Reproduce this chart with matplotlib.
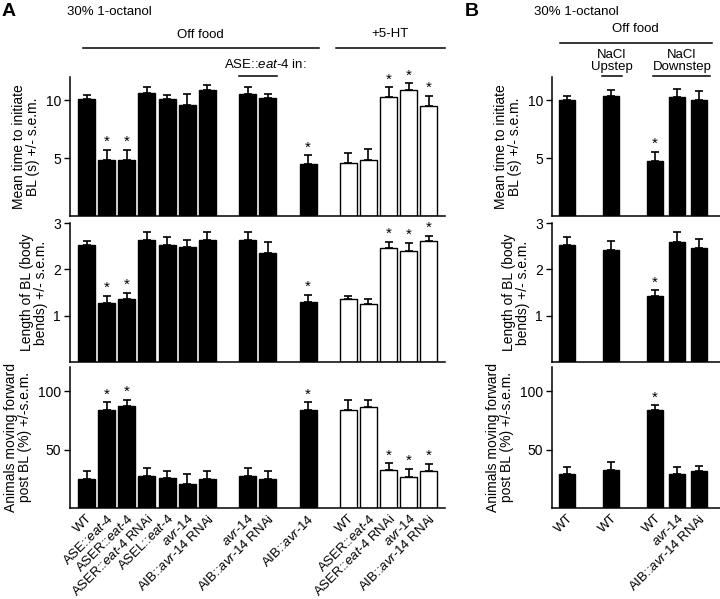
import numpy as np
import matplotlib
matplotlib.use("Agg")
import matplotlib.pyplot as plt
from matplotlib.lines import Line2D

plt.rcParams.update({
    "font.family": ["Liberation Sans", "DejaVu Sans"],
    "font.size": 9.5,
    "mathtext.fontset": "custom",
    "mathtext.rm": "Liberation Sans",
    "mathtext.it": "Liberation Sans:italic",
    "axes.linewidth": 1.1,
    "axes.spines.top": False,
    "axes.spines.right": False,
})

W, H = 720, 599
FS = 9.5


def eat4(s):
    return s.replace("eat-4", r"$\mathit{eat}$-$\mathit{4}$")


def avr14(s):
    return s.replace("avr-14", r"$\mathit{avr}$-$\mathit{14}$")


# ---- panel A data ----
a_groups = [7, 2, 1, 5]
a_labels = ["WT", "ASE::eat-4", "ASER::eat-4", "ASER::eat-4 RNAi", "ASEL::eat-4",
            "avr-14", "AIB::avr-14 RNAi", "avr-14", "AIB::avr-14 RNAi", "AIB::avr-14",
            "WT", "ASER::eat-4", "ASER::eat-4 RNAi", "avr-14", "AIB::avr-14 RNAi"]
a_open = [False] * 10 + [True] * 5
a_sig = [1, 2, 9, 12, 13, 14]
a_time = [10.1, 4.85, 4.85, 10.6, 10.1, 9.55, 10.85, 10.5, 10.2, 4.5, 4.6, 4.8, 10.3, 10.85, 9.5]
a_time_err = [0.35, 0.85, 0.85, 0.5, 0.35, 0.95, 0.5, 0.6, 0.35, 0.75, 0.8, 0.95, 0.8, 0.6, 0.9]
a_len = [2.52, 1.28, 1.35, 2.63, 2.52, 2.49, 2.64, 2.63, 2.35, 1.30, 1.35, 1.26, 2.45, 2.39, 2.61]
a_len_err = [0.09, 0.15, 0.15, 0.17, 0.18, 0.14, 0.17, 0.17, 0.23, 0.15, 0.07, 0.09, 0.15, 0.18, 0.12]
a_fwd = [24.7, 84.5, 87.3, 27.6, 25.6, 21.0, 24.7, 27.6, 24.7, 84.5, 84.5, 87.0, 32.2, 27.0, 31.6]
a_fwd_err = [6.9, 6.2, 5.7, 6.5, 6.3, 8.3, 7.2, 6.5, 7.2, 6.2, 8.0, 6.0, 6.2, 6.6, 6.3]

# ---- panel B data ----
b_groups = [1, 1, 3]
b_labels = ["WT", "WT", "WT", "avr-14", "AIB::avr-14 RNAi"]
b_open = [False] * 5
b_sig = [2]
b_time = [10.05, 10.4, 4.75, 10.25, 10.0]
b_time_err = [0.35, 0.5, 0.8, 0.75, 0.8]
b_len = [2.52, 2.41, 1.42, 2.6, 2.45]
b_len_err = [0.17, 0.2, 0.13, 0.2, 0.21]
b_fwd = [29.3, 32.4, 83.8, 28.9, 31.5]
b_fwd_err = [6.3, 7.5, 4.6, 6.7, 4.9]

ylab_time = "Mean time to initiate\nBL (s) +/- s.e.m."
ylab_len = "Length of BL (body\nbends) +/- s.e.m."
ylab_fwd = "Animals moving forward\npost BL (%) +/-s.e.m."


def positions(groups):
    xs, start = [], 0
    for n in groups:
        xs += list(range(start, start + n))
        start += n + 1
    return np.array(xs)


def px_ax(fig, l, t, r, b):
    return fig.add_axes([l / W, 1 - b / H, (r - l) / W, (b - t) / H])


def bars(ax, xs, vals, errs, opens, sig, width, ylim, yticks, ylab):
    colors = ["white" if o else "black" for o in opens]
    ax.bar(xs, vals, width=width, color=colors, edgecolor="black", linewidth=1.0, zorder=2)
    ax.errorbar(xs, vals, yerr=[np.zeros(len(vals)), errs], fmt="none", ecolor="black",
                elinewidth=1.2, capsize=2.8, capthick=1.2, zorder=1)
    for i in sig:
        ax.annotate("*", (xs[i], vals[i] + errs[i]), xytext=(0, 0.5), textcoords="offset points",
                    ha="center", va="bottom", fontsize=11)
    ax.set_ylim(*ylim)
    ax.set_yticks(yticks)
    ax.set_ylabel(ylab, fontsize=10, labelpad=4, linespacing=1.0)
    ax.tick_params(axis="y", direction="out", length=4.5, width=1.0, labelsize=10, pad=2)
    ax.tick_params(axis="x", length=0)


fig = plt.figure(figsize=(W / 100, H / 100), dpi=100)

rows = [(77, 216), (223, 362), (367, 508)]
ylims = [(0, 12), (0, 3), (0, 121)]
yticks = [[5, 10], [1, 2, 3], [50, 100]]
ylabs = [ylab_time, ylab_len, ylab_fwd]

for panel in ("A", "B"):
    if panel == "A":
        xs = positions(a_groups)
        data = [(a_time, a_time_err), (a_len, a_len_err), (a_fwd, a_fwd_err)]
        l, r, xl, wd, opens, sig, labels = 70, 445, (-0.82, 17.8), 0.84, a_open, a_sig, a_labels
    else:
        xs = positions(b_groups)
        data = [(b_time, b_time_err), (b_len, b_len_err), (b_fwd, b_fwd_err)]
        l, r, xl, wd, opens, sig, labels = 552, 720, (-0.68, 6.95), 0.75, b_open, b_sig, b_labels
    for k, ((t, b), (vals, errs)) in enumerate(zip(rows, data)):
        ax = px_ax(fig, l, t, r, b)
        bars(ax, xs, vals, errs, opens, sig, wd, ylims[k], yticks[k], ylabs[k])
        ax.set_xlim(*xl)
        ax.set_xticks(xs)
        if k == 2:
            ax.set_xticklabels([avr14(eat4(s)) for s in labels], rotation=45, ha="right",
                               rotation_mode="anchor", fontsize=FS)
            ax.tick_params(axis="x", pad=3)
        else:
            ax.set_xticklabels([])


def ftext(x, y, s, **kw):
    fig.text(x / W, 1 - y / H, s, **kw)


def fline(x0, x1, y, lw=1.1):
    fig.add_artist(Line2D([x0 / W, x1 / W], [1 - y / H, 1 - y / H], color="black", lw=lw,
                          transform=fig.transFigure))


# panel A header
ftext(2, 12, "A", fontsize=14, fontweight="bold", va="center")
ftext(67, 12, "30% 1-octanol", fontsize=FS, va="center")
ftext(200, 35, "Off food", fontsize=FS, ha="center", va="center")
fline(83, 319, 48)
ftext(390, 34, "+5-HT", fontsize=FS, ha="center", va="center")
fline(336, 445, 48)
ftext(265, 65, eat4("ASE::eat-4 in:"), fontsize=FS, ha="center", va="center")
fline(239, 277, 76)

# panel B header
ftext(465, 12, "B", fontsize=14, fontweight="bold", va="center")
ftext(534, 12, "30% 1-octanol", fontsize=FS, va="center")
ftext(635, 29, "Off food", fontsize=FS, ha="center", va="center")
fline(560, 712, 43)
ftext(612, 61, "NaCl\nUpstep", fontsize=FS, ha="center", va="center", linespacing=1.05)
fline(602, 622, 76)
ftext(682, 61, "NaCl\nDownstep", fontsize=FS, ha="center", va="center", linespacing=1.05)
fline(653, 710, 76)

fig.savefig("out.png", dpi=100)
